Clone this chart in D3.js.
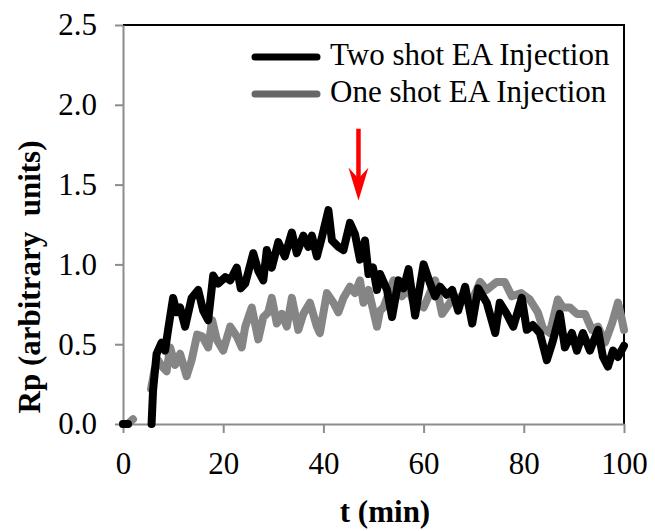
<!DOCTYPE html>
<meta charset="utf-8">
<style>
body { margin: 0; background: #fff; }
svg text { font-family: "Times New Roman", "Liberation Serif", Times, "DejaVu Serif", serif; fill: #000; }
.axis path, .axis line { stroke: #8c8c8c; stroke-width: 2; }
.axis text { font-size: 31px; }
.title { font-size: 31px; font-weight: bold; }
.legend text { font-size: 31px; }
</style>
<script src="https://d3js.org/d3.v7.min.js"></script>
<svg id="chart" width="655" height="531" font-family="Liberation Serif, serif"></svg>
<script>

// Rp vs time ([t (min), Rp]); null = no data
var twoShot = [[0,0],[1,0],[3,null],[5.7,0],[6.0,0.21],[6.7,0.44],[7.7,0.51],[8.4,0.46],[9,0.59],[10,0.79],
  [10.7,0.70],[11.4,0.73],[12.4,0.61],[13.7,0.79],[15,0.84],[16,0.71],[17,0.65],[18,0.93],[19,0.88],[20.4,0.92],
  [21.4,0.90],[22.7,0.98],[23.5,0.85],[24.4,0.88],[26,1.07],[27,0.96],[28,0.90],[28.7,1.09],[29.7,0.98],[31,1.14],
  [32.3,1.05],[33.7,1.2],[34.7,1.07],[36,1.18],[37,1.11],[37.7,1.18],[38.7,1.05],[39.7,1.17],[41,1.34],[41.7,1.15],
  [43,1.11],[44,1.09],[45.3,1.26],[46.3,1.19],[47.3,1.03],[48.3,1.15],[49,0.94],[49.9,0.98],[50.7,0.84],[51.3,0.94],
  [52.7,0.84],[53.7,0.67],[55,0.9],[56,0.85],[57,0.97],[58.3,0.68],[60,1.0],[61.3,0.88],[62.3,0.80],[63.3,0.86],
  [64.6,0.81],[65.7,0.84],[66.9,0.71],[68.3,0.86],[69.7,0.63],[70.9,0.85],[72.6,0.76],[74.3,0.57],[75.2,0.76],
  [76.6,0.69],[77.9,0.61],[79.6,0.79],[80.6,0.59],[81.8,0.62],[83.2,0.57],[84.6,0.40],[85.8,0.52],[87.2,0.69],
  [88.2,0.48],[89.6,0.57],[90.6,0.46],[91.8,0.57],[93.2,0.46],[94.8,0.59],[95.8,0.42],[96.8,0.36],[97.8,0.46],
  [98.8,0.42],[100,0.49]];

var oneShot = [[0,0],[1,0],[2,0.03],[3,null],[5.6,0.22],[6.3,0.34],[7.0,0.40],[7.8,0.36],[8.7,0.33],[9.4,0.48],
  [10.4,0.37],[11.4,0.44],[12.7,0.30],[13.7,0.40],[14.8,0.56],[15.8,0.55],[17,0.48],[17.8,0.65],[18.7,0.53],[20,0.46],
  [21.4,0.61],[22.7,0.55],[23.7,0.48],[24.4,0.61],[25.7,0.73],[27,0.53],[28,0.67],[29,0.70],[29.7,0.79],[30.7,0.63],
  [31.7,0.69],[32.7,0.61],[33.7,0.79],[35,0.59],[36,0.69],[37.3,0.76],[38.7,0.61],[39.3,0.57],[40.7,0.82],[42,0.76],
  [43,0.70],[44,0.79],[45.3,0.86],[46.3,0.82],[47.3,0.90],[48,0.76],[49,0.84],[50.7,0.61],[51.3,0.71],[52,0.73],
  [54,0.9],[55.7,0.8],[57,0.85],[58,0.76],[60,0.73],[61,0.80],[62.3,0.9],[63.7,0.69],[65.7,0.78],[67.7,0.80],
  [69.5,0.76],[71.3,0.89],[72.6,0.84],[74.6,0.89],[76.2,0.89],[77.6,0.80],[79.5,0.82],[81.2,0.78],[82.8,0.70],
  [83.8,0.60],[85.2,0.57],[86.8,0.78],[87.8,0.73],[89.2,0.73],[90.6,0.69],[92.2,0.69],[93.6,0.59],[94.8,0.61],
  [96.2,0.51],[97.6,0.63],[98.8,0.76],[99.6,0.65],[100,0.59]];

var xTicks = [0, 20, 40, 60, 80, 100];
var yTicks = [0, 0.5, 1.0, 1.5, 2.0, 2.5];
var seriesNames = ["Two shot EA Injection", "One shot EA Injection"];
var arrowAt = { t: 47, from: 1.85, to: 1.4 };

var svg = d3.select("#chart");

var x = d3.scaleLinear().domain([0, 100]).range([123, 624]);
var y = d3.scaleLinear().domain([0, 2.5]).range([424, 25]);

// frame: black top + right
svg.append("path")
    .attr("d", "M" + x(0) + "," + y(2.5) + "H" + x(100) + "V" + y(0))
    .attr("fill", "none")
    .attr("stroke", "#000")
    .attr("stroke-width", 2);

svg.append("g")
    .attr("class", "axis")
    .attr("transform", "translate(" + x(0) + ",0)")
    .call(d3.axisLeft(y).tickValues(yTicks).tickSize(8).tickSizeOuter(0).tickPadding(18)
      .tickFormat(d3.format(".1f")))
    .attr("font-family", null).attr("font-size", null);

svg.append("g")
    .attr("class", "axis")
    .attr("transform", "translate(0," + y(0) + ")")
    .call(d3.axisBottom(x).tickValues(xTicks).tickSize(9).tickSizeOuter(0).tickPadding(19))
    .attr("font-family", null).attr("font-size", null);

var line = d3.line()
    .defined(function(d) { return d[1] !== null; })
    .x(function(d) { return x(d[0]); })
    .y(function(d) { return y(d[1]); });

svg.append("path")
    .datum(oneShot)
    .attr("d", line)
    .attr("fill", "none")
    .attr("stroke", "#858585")
    .attr("stroke-width", 8)
    .attr("stroke-linejoin", "round")
    .attr("stroke-linecap", "round");

svg.append("path")
    .datum(twoShot)
    .attr("d", line)
    .attr("fill", "none")
    .attr("stroke", "#000")
    .attr("stroke-width", 8)
    .attr("stroke-linejoin", "round")
    .attr("stroke-linecap", "round");

// red arrow
var ax = x(arrowAt.t), ay0 = y(arrowAt.from), ay1 = y(arrowAt.to);
svg.append("line")
    .attr("x1", ax).attr("x2", ax)
    .attr("y1", ay0).attr("y2", ay1 - 20)
    .attr("stroke", "#ff0000")
    .attr("stroke-width", 4.5);
svg.append("path")
    .attr("d", "M" + ax + "," + ay1 + "L" + (ax - 10) + "," + (ay1 - 33) + "L" + ax + "," + (ay1 - 22) +
      "L" + (ax + 10) + "," + (ay1 - 33) + "Z")
    .attr("fill", "#ff0000");

// legend
var legend = svg.append("g").attr("class", "legend");
var legendColors = ["#000", "#676767"];
seriesNames.forEach(function(name, i) {
  var ly = 57 + i * 37;
  legend.append("line")
      .attr("x1", 255).attr("x2", 317)
      .attr("y1", ly).attr("y2", ly)
      .attr("stroke", legendColors[i])
      .attr("stroke-width", 7)
      .attr("stroke-linecap", "round");
  legend.append("text")
      .attr("x", 330).attr("y", ly + 8)
      .text(name);
});

svg.append("text")
    .attr("class", "title")
    .attr("x", 385).attr("y", 522)
    .attr("text-anchor", "middle")
    .text("t (min)");

svg.append("text")
    .attr("class", "title")
    .attr("transform", "translate(40,277) rotate(-90)")
    .attr("text-anchor", "middle")
    .attr("xml:space", "preserve")
    .text("Rp (arbitrary  units)");

</script>
